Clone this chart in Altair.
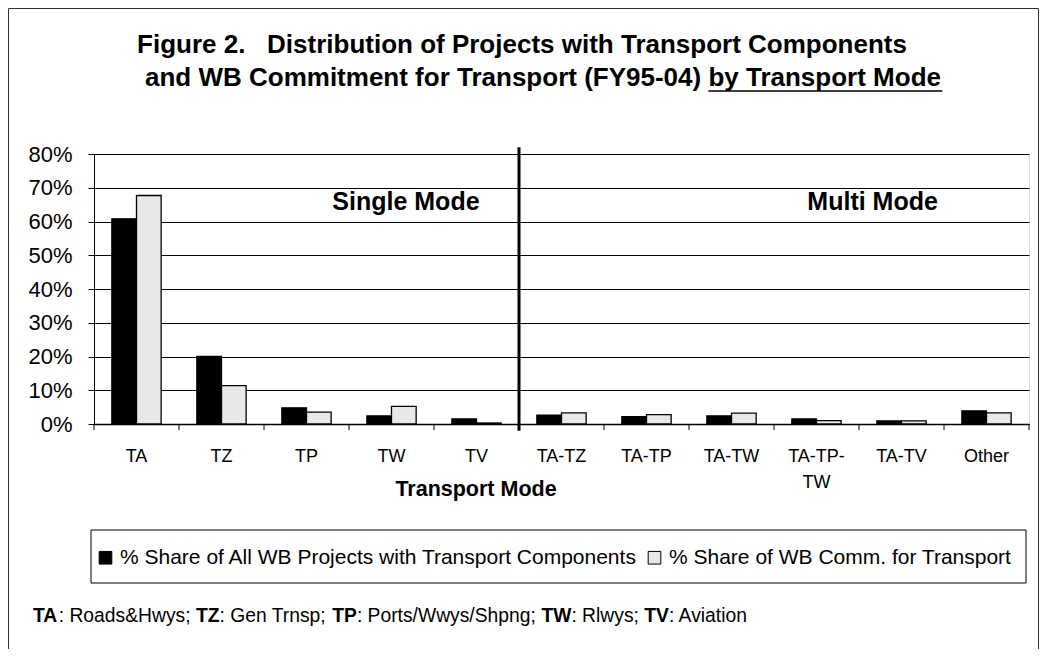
import altair as alt
import pandas as pd

# ---------------- data ----------------
categories = ["TA", "TZ", "TP", "TW", "TV", "TA-TZ", "TA-TP", "TA-TW", "TA-TP-TW", "TA-TV", "Other"]
projects_share = [60.8, 20.0, 4.8, 2.4, 1.5, 2.6, 2.2, 2.4, 1.5, 0.9, 3.9]
commitment_share = [67.7, 11.4, 3.5, 5.2, 0.3, 3.3, 2.8, 3.2, 1.0, 0.9, 3.3]
series_names = ["% Share of All WB Projects with Transport Components",
                "% Share of WB Comm. for Transport"]
y_ticks = [0, 0.1, 0.2, 0.3, 0.4, 0.5, 0.6, 0.7, 0.8]
boundaries = list(range(12))
mode_labels = ["Single Mode", "Multi Mode"]
mode_label_x = [3.67, 9.16]
mode_label_y = [0.657, 0.657]
NB = "\u00a0"
title_line1 = "Figure 2." + NB * 3 + "Distribution of Projects with Transport Components"
title_line2 = "and WB Commitment for Transport (FY95-04) by Transport Mode"
underlined = "by Transport Mode"
footer_parts = [("TA", True), (": Roads&Hwys; ", False), ("TZ", True), (": Gen Trnsp; ", False),
                ("TP", True), (": Ports/Wwys/Shpng; ", False), ("TW", True), (": Rlwys; ", False),
                ("TV", True), (": Aviation", False)]

FONT = "Liberation Sans"
W, H = 935, 270

# Arial (Liberation Sans) advance widths, per 1000 em, for layout of mixed-weight text
REG = {' ': 278, ':': 278, ';': 278, '&': 667, '/': 278, 'A': 667, 'G': 778, 'H': 722, 'P': 667,
       'R': 722, 'S': 667, 'T': 611, 'W': 944, 'a': 556, 'd': 556, 'e': 556, 'g': 556, 'h': 556,
       'i': 222, 'l': 222, 'n': 556, 'o': 556, 'p': 556, 'r': 333, 's': 500, 't': 278, 'v': 500,
       'w': 722, 'y': 500}
BOLD = {' ': 278, '(': 333, ')': 333, '-': 333, '0': 556, '4': 556, '5': 556, '9': 556, 'B': 722,
        'C': 722, 'F': 611, 'M': 833, 'T': 611, 'W': 944, 'Y': 667, 'a': 556, 'b': 611, 'd': 611,
        'e': 556, 'f': 333, 'i': 278, 'm': 889, 'n': 611, 'o': 611, 'p': 611, 'r': 389, 's': 556,
        't': 333, 'y': 556, 'A': 722, 'Z': 611, 'P': 667, 'V': 667}


def text_width(s, size, bold):
    table = BOLD if bold else REG
    return sum(table.get(ch, 556) for ch in s) * size / 1000.0


rows = []
for c, p, m in zip(categories, projects_share, commitment_share):
    rows.append({"mode": c, "series": series_names[0], "share": p / 100})
    rows.append({"mode": c, "series": series_names[1], "share": m / 100})
df = pd.DataFrame(rows)

one = pd.DataFrame({"a": [0]})

y_axis = alt.Axis(values=y_ticks, format=".0%", title=None, labelFontSize=22,
                  labelFont=FONT, labelColor="black", tickSize=6, tickColor="black",
                  labelPadding=16, labelOverlap=False, domainColor="black",
                  gridColor="black", gridWidth=1)
y_scale = alt.Scale(domain=[0, 0.8], nice=False)

bars = alt.Chart(df).mark_bar(stroke="black", strokeWidth=1.3).encode(
    x=alt.X("mode:N", sort=categories,
            scale=alt.Scale(paddingInner=0.42, paddingOuter=0.21),
            axis=alt.Axis(title=None, labelFontSize=18, labelFont=FONT, labelColor="black",
                          labelAngle=0, ticks=False, domainColor="black", domainWidth=1.5,
                          labelPadding=23, labelLineHeight=26,
                          labelExpr="datum.value == 'TA-TP-TW' ? ['TA-TP-', 'TW'] : datum.value")),
    xOffset=alt.XOffset("series:N", sort=series_names),
    y=alt.Y("share:Q", scale=y_scale, axis=y_axis),
    fill=alt.Fill("series:N", sort=series_names,
                  scale=alt.Scale(domain=series_names, range=["black", "#e8e8e8"]),
                  legend=alt.Legend(orient="none", legendX=1, legendY=393,
                                    direction="horizontal", title=None, labelFontSize=21,
                                    labelFont=FONT, labelColor="black", symbolType="square",
                                    symbolSize=160, symbolStrokeColor="black",
                                    symbolStrokeWidth=1, labelLimit=1000, columnPadding=6,
                                    labelOffset=4, padding=0)),
)

xq = alt.Scale(domain=[0, 11], nice=False, zero=False)

ticks = alt.Chart(pd.DataFrame({"b": boundaries})).mark_rule(color="black", strokeWidth=1).encode(
    x=alt.X("b:Q", scale=xq, axis=None),
    y=alt.YDatum(0, axis=y_axis, scale=y_scale),
    y2=alt.Y2Datum(-0.018),
)

divider = alt.Chart(pd.DataFrame({"b": [5]})).mark_rule(color="black", strokeWidth=3).encode(
    x=alt.X("b:Q", scale=xq, axis=None),
    y=alt.YDatum(-0.02, axis=y_axis, scale=y_scale),
    y2=alt.Y2Datum(0.82),
)

mode_text = alt.Chart(pd.DataFrame({"label": mode_labels, "x": mode_label_x, "y": mode_label_y})).mark_text(
    font=FONT, fontSize=25, fontWeight="bold", color="black", baseline="middle", align="center"
).encode(
    x=alt.X("x:Q", scale=xq, axis=None),
    y=alt.Y("y:Q", axis=y_axis, scale=y_scale),
    text="label:N",
)

layers = [bars, ticks, divider, mode_text]

# Title
TS = 26
t1_cx, t2_cx = 522, 543
layers.append(alt.Chart(one).mark_text(font=FONT, fontSize=TS, fontWeight="bold", color="black",
                                       align="center", baseline="middle").encode(
    x=alt.value(t1_cx - 94), y=alt.value(-109), text=alt.value(title_line1)))
layers.append(alt.Chart(one).mark_text(font=FONT, fontSize=TS, fontWeight="bold", color="black",
                                       align="center", baseline="middle").encode(
    x=alt.value(t2_cx - 94), y=alt.value(-76), text=alt.value(title_line2)))
w2 = text_width(title_line2, TS, True)
wu = text_width(underlined, TS, True)
right2 = t2_cx - 94 + w2 / 2
layers.append(alt.Chart(one).mark_rule(color="black", strokeWidth=1.6).encode(
    x=alt.value(right2 - wu), x2=alt.value(right2), y=alt.value(-63)))

# X axis title
layers.append(alt.Chart(one).mark_text(font=FONT, fontSize=21.5, fontWeight="bold", color="black",
                                       align="center", baseline="middle").encode(
    x=alt.value(382), y=alt.value(336), text=alt.value("Transport Mode")))

# Legend frame
layers.append(alt.Chart(one).mark_rect(fill=None, stroke="black", strokeWidth=1).encode(
    x=alt.value(-3), x2=alt.value(932), y=alt.value(376), y2=alt.value(429)))

# Footer with bold abbreviations
FS = 19.3
cx = -61
for part, bold in footer_parts:
    layers.append(alt.Chart(one).mark_text(font=FONT, fontSize=FS,
                                           fontWeight="bold" if bold else "normal",
                                           color="black", align="left", baseline="middle").encode(
        x=alt.value(cx), y=alt.value(462), text=alt.value(part)))
    cx += text_width(part, FS, bold)

# Outer frame (top, left, right edges)
FL, FR, FT, FB = -85.5, 944.5, -145.5, 500
layers.append(alt.Chart(one).mark_rule(color="#333333", strokeWidth=1).encode(
    x=alt.value(FL), x2=alt.value(FR), y=alt.value(FT)))
layers.append(alt.Chart(one).mark_rule(color="#333333", strokeWidth=1).encode(
    x=alt.value(FL), y=alt.value(FT), y2=alt.value(FB)))
layers.append(alt.Chart(one).mark_rule(color="#333333", strokeWidth=1).encode(
    x=alt.value(FR), y=alt.value(FT), y2=alt.value(FB)))

chart = alt.layer(*layers).resolve_scale(x="independent").properties(
    width=W, height=H,
    padding={"left": 86, "top": 146, "right": 10, "bottom": 225},
    autosize=alt.AutoSizeParams(type="none"),
).configure_view(stroke="black", strokeWidth=1).configure(background="white")

chart.save("out.html", embed_options={"renderer": "svg", "actions": False})
